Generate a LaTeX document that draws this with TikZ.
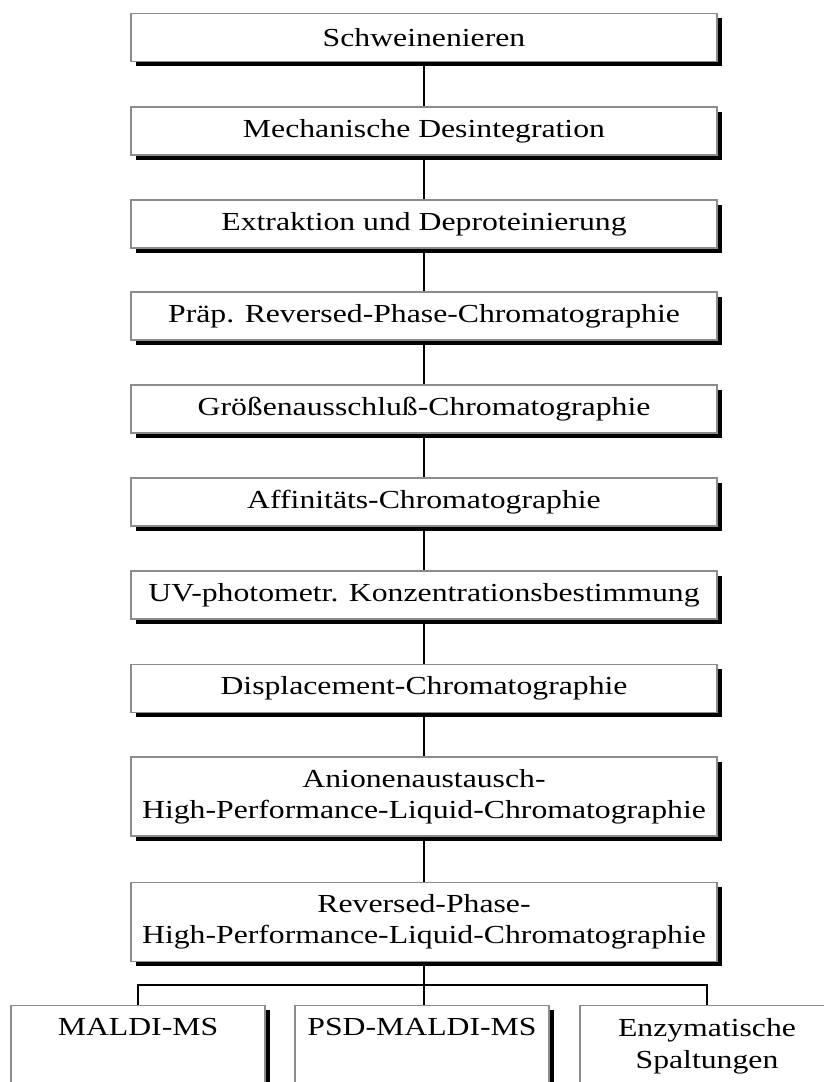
\documentclass[tikz,border=0pt]{standalone}
\usepackage{fontspec}
\setmainfont{Liberation Serif}[FakeStretch=1.22]
\usetikzlibrary{shadows}
\begin{document}
\begin{tikzpicture}[x=1pt,y=1pt,
  boxbase/.style={draw=black!45, line width=1.4pt, fill=white, inner sep=0pt, align=center,
    font=\fontsize{26}{31}\selectfont,
    drop shadow={shadow xshift=4.5pt, shadow yshift=-4.5pt, fill=black, opacity=1}},
  stepbox/.style={boxbase, minimum width=586pt, minimum height=48pt},
  tallbox/.style={boxbase, minimum width=586pt, minimum height=79pt},
  leafbox/.style={boxbase, minimum width=254pt, minimum height=130pt, anchor=north},
  leaftext/.style={align=center, inner sep=0pt, anchor=north, font=\fontsize{26}{32.5}\selectfont},
  conn/.style={line width=1.9pt, black}]
\useasboundingbox (0,0) rectangle (824,-1082);
\clip (0,0) rectangle (824,-1082);

\node[stepbox] (b1) at (424,-37.5) {Schweinenieren};
\node[stepbox] (b2) at (424,-131) {Mechanische Desintegration};
\node[stepbox] (b3) at (424,-224) {Extraktion und Deproteinierung};
\node[stepbox] (b4) at (424,-316) {Präp. Reversed-Phase-Chromatographie};
\node[stepbox] (b5) at (424,-409) {Größenausschluß-Chromatographie};
\node[stepbox] (b6) at (424,-502) {Affinitäts-Chromatographie};
\node[stepbox] (b7) at (424,-595) {UV-photometr. Konzentrationsbestimmung};
\node[stepbox] (b8) at (424,-688.5) {Displacement-Chromatographie};
\node[tallbox] (b9) at (424,-796.5) {Anionenaustausch-\\High-Performance-Liquid-Chromatographie};
\node[tallbox] (b10) at (424,-922) {Reversed-Phase-\\High-Performance-Liquid-Chromatographie};

\node[leafbox] (m1) at (138,-1005) {};
\node[leafbox] (m2) at (422,-1005) {};
\node[leafbox] (m3) at (707,-1005) {};
\node[leaftext] (t1) at (138,-1018) {MALDI-MS};
\node[leaftext] (t2) at (422,-1018) {PSD-MALDI-MS};
\node[leaftext] (t3) at (707,-1018) {Enzymatische\\Spaltungen};

\coordinate (bus) at (424,-985);

\draw[conn] (b1.south) -- (b2.north);
\draw[conn] (b2.south) -- (b3.north);
\draw[conn] (b3.south) -- (b4.north);
\draw[conn] (b4.south) -- (b5.north);
\draw[conn] (b5.south) -- (b6.north);
\draw[conn] (b6.south) -- (b7.north);
\draw[conn] (b7.south) -- (b8.north);
\draw[conn] (b8.south) -- (b9.north);
\draw[conn] (b9.south) -- (b10.north);
\draw[conn] (b10.south) -- (bus);
\draw[conn] (m1.north) |- (bus) -| (m3.north);
\draw[conn] (bus) -- (bus |- m2.north);
\end{tikzpicture}
\end{document}
